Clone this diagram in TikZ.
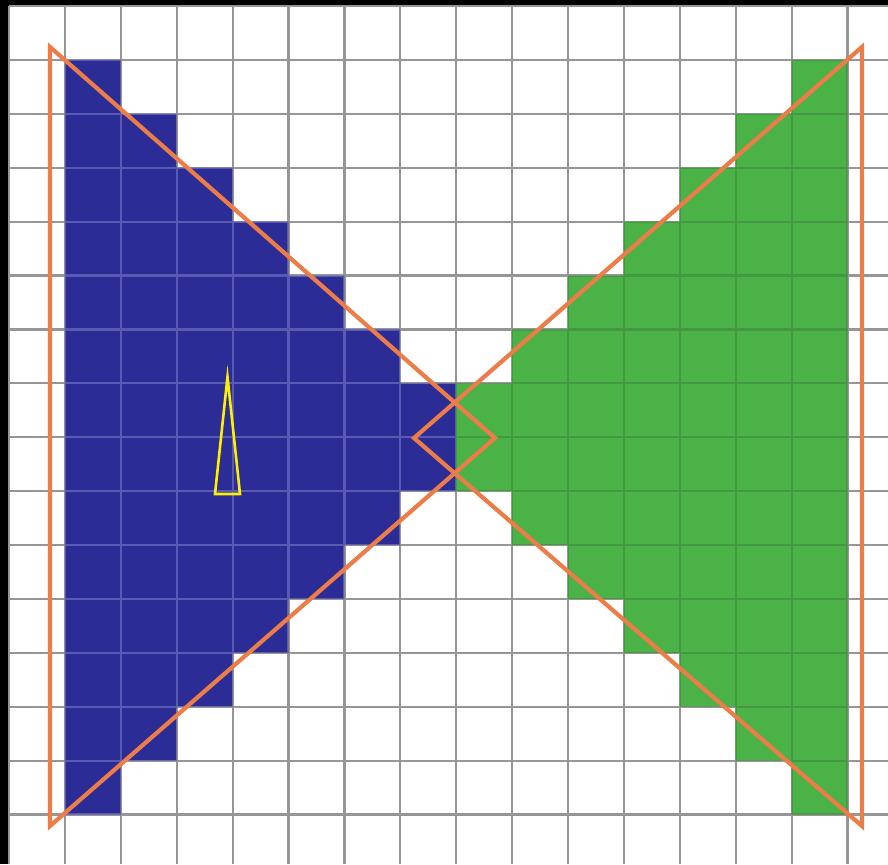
\documentclass[tikz,border=0pt]{standalone}
\definecolor{cellblue}{RGB}{44,44,150}
\definecolor{cellgreen}{RGB}{74,178,70}
\definecolor{gridgray}{RGB}{150,150,150}
\definecolor{bluegrid}{RGB}{90,90,178}
\definecolor{greengrid}{RGB}{68,152,66}
\definecolor{tri}{RGB}{236,124,72}
\definecolor{ylw}{RGB}{255,240,0}
\tikzset{
  gridline/.style={line width=2.2pt},
  outline/.style={draw=tri, line width=4.2pt, line join=miter},
  marker/.style={draw=ylw, line width=2.6pt, line join=miter}
}
\begin{document}
\begin{tikzpicture}[x=1pt,y=-1pt]
\useasboundingbox (0,0) rectangle (888,864);
\fill[black] (0,0) rectangle (888,864);
\fill[white] (9,6) rectangle (888,864);
% blue cells
\foreach \k in {1,...,7}{
  \fill[cellblue] ({9+55.9*\k},{6+53.9*\k}) rectangle ({9+55.9*(\k+1)},{6+53.9*(16-\k)});
}
% green cells
\foreach \k in {8,...,14}{
  \fill[cellgreen] ({9+55.9*\k},{6+53.9*(15-\k)}) rectangle ({9+55.9*(\k+1)},{6+53.9*(\k+1)});
}
% grid on white
\foreach \k in {0,...,15}{
  \draw[gridline, draw=gridgray] ({9+55.9*\k},6) -- ({9+55.9*\k},864);
}
\foreach \j in {0,...,15}{
  \draw[gridline, draw=gridgray] (9,{6+53.9*\j}) -- (888,{6+53.9*\j});
}
% grid on blue
\begin{scope}
\clip \foreach \k in {1,...,7}{ ({9+55.9*\k},{6+53.9*\k}) rectangle ({9+55.9*(\k+1)},{6+53.9*(16-\k)}) };
\foreach \k in {1,...,8}{
  \draw[gridline, draw=bluegrid] ({9+55.9*\k},6) -- ({9+55.9*\k},864);
}
\foreach \j in {1,...,15}{
  \draw[gridline, draw=bluegrid] (9,{6+53.9*\j}) -- (888,{6+53.9*\j});
}
\end{scope}
% grid on green
\begin{scope}
\clip \foreach \k in {8,...,14}{ ({9+55.9*\k},{6+53.9*(15-\k)}) rectangle ({9+55.9*(\k+1)},{6+53.9*(\k+1)}) };
\foreach \k in {8,...,15}{
  \draw[gridline, draw=greengrid] ({9+55.9*\k},6) -- ({9+55.9*\k},864);
}
\foreach \j in {1,...,15}{
  \draw[gridline, draw=greengrid] (9,{6+53.9*\j}) -- (888,{6+53.9*\j});
}
\end{scope}
% triangles
\coordinate (lt) at (50,47);
\coordinate (lb) at (50,826);
\coordinate (la) at (495,438);
\coordinate (rt) at (862,47);
\coordinate (rb) at (862,826);
\coordinate (ra) at (414,438);
\draw[outline] (lt) -- (la) -- (lb) -- cycle;
\draw[outline] (rt) -- (ra) -- (rb) -- cycle;
% yellow marker
\coordinate (yt) at (227.5,377);
\coordinate (yl) at (215,494);
\coordinate (yr) at (240,494);
\draw[marker] (yt) -- (yl) -- (yr) -- cycle;
\end{tikzpicture}
\end{document}
